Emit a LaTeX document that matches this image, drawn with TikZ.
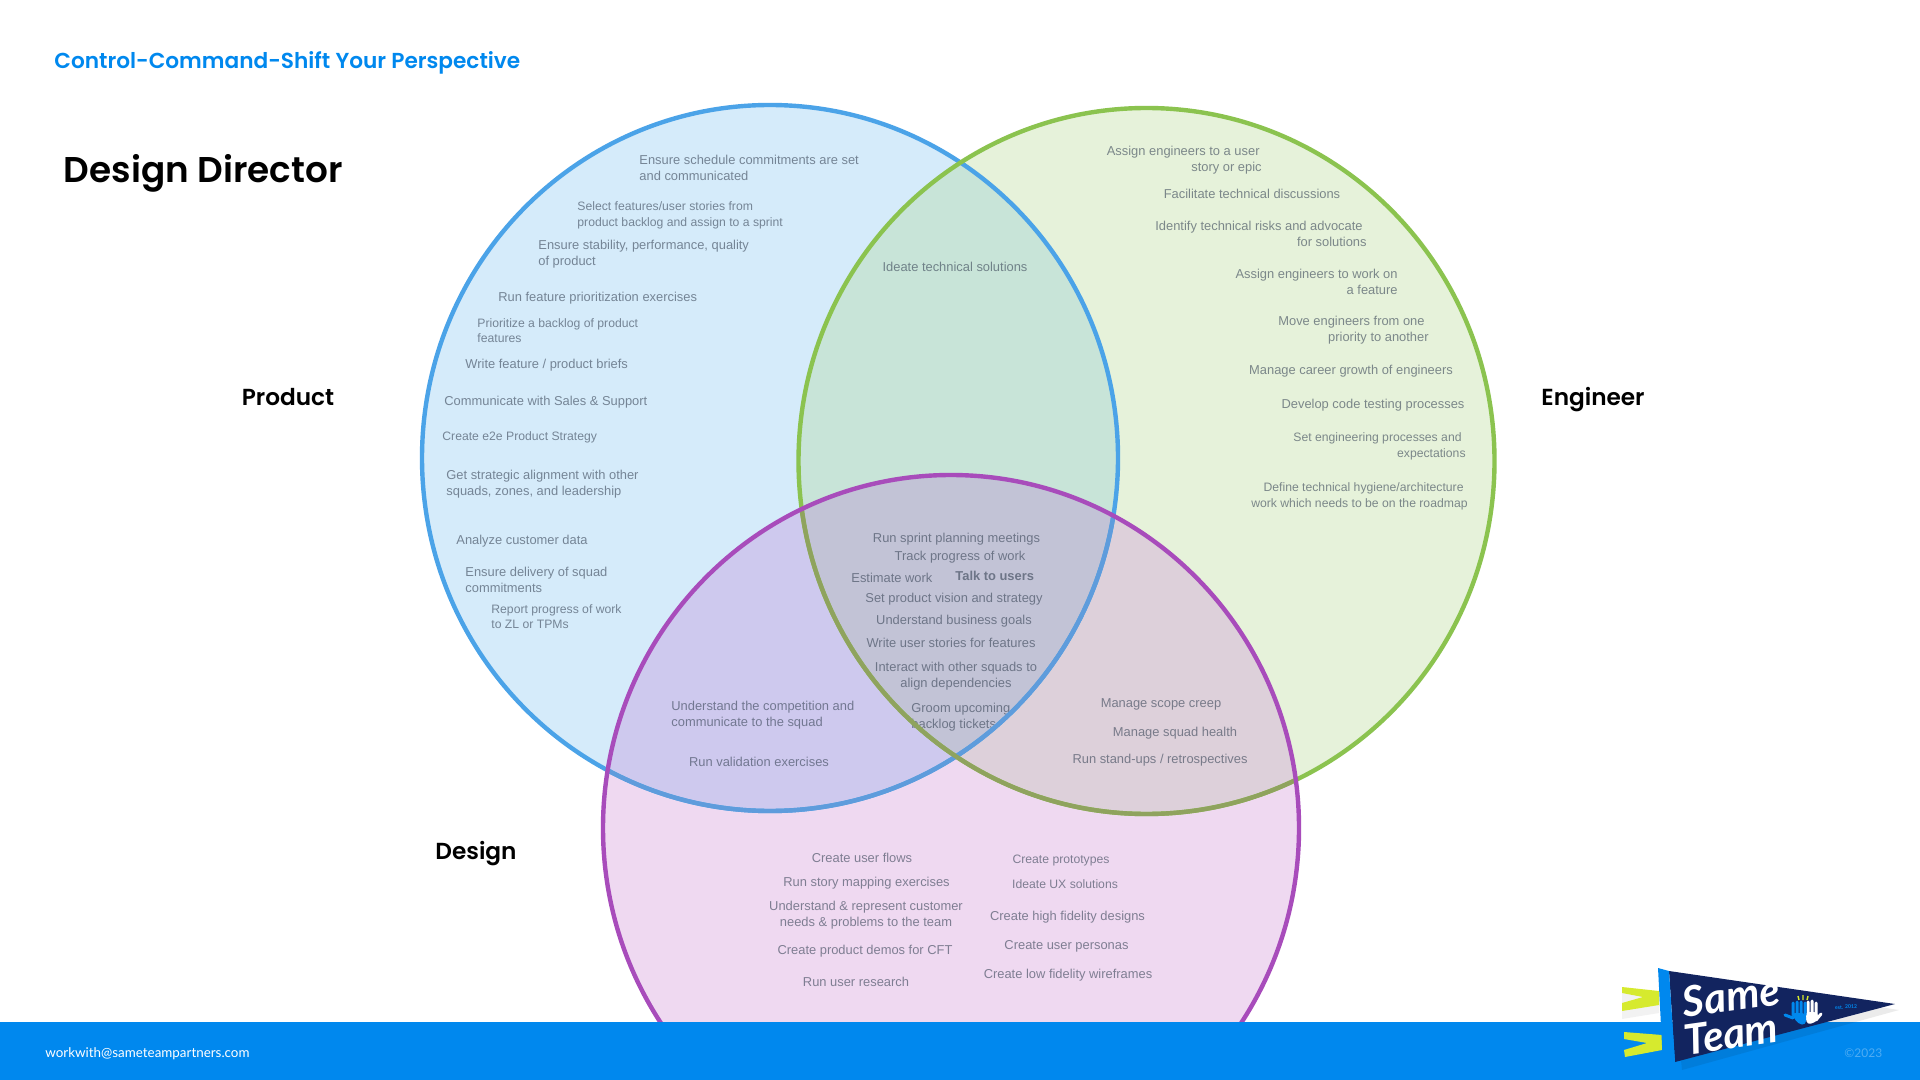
\documentclass[tikz,border=0pt]{standalone}
\usepackage{fontspec}
\setmainfont{Liberation Sans}
\newfontfamily\headfont{Poppins}[BoldFont={Poppins SemiBold}]
\newfontfamily\footfont{Lato}
\usepackage{tikz}
\definecolor{ink}{HTML}{3A4658}
\definecolor{barblue}{HTML}{0088EE}
\definecolor{navy}{HTML}{12245F}
\definecolor{lime}{HTML}{D6EA2E}
\definecolor{prodline}{HTML}{4BA3E8}
\definecolor{prodfill}{HTML}{D5EBFA}
\definecolor{engline}{HTML}{8BC34F}
\definecolor{engfill}{HTML}{E6F2DA}
\definecolor{desline}{HTML}{A84CBB}
\definecolor{desfill}{HTML}{EFD9F1}
\definecolor{prodeng}{HTML}{C8E4D8}
\definecolor{proddes}{HTML}{CEC9EE}
\definecolor{engdes}{HTML}{DDD0DA}
\definecolor{allthree}{HTML}{C2C3D6}
\definecolor{engdim}{HTML}{8FA35E}
\definecolor{proddim}{HTML}{5E9CDC}
\newcommand{\prodpath}{(770,458) ellipse [x radius=348,y radius=353]}
\newcommand{\engpath}{(1146.5,461) ellipse [x radius=348,y radius=353]}
\newcommand{\despath}{(951,828) ellipse [x radius=348,y radius=353]}
\begin{document}
\begin{tikzpicture}[
 x=.5pt,y=-.5pt,
 lab/.style={font=\fontsize{6.45}{8.2}\selectfont,text=ink,text opacity=.62,inner sep=0pt,align=left,anchor=west,yshift=-1pt,
   execute at begin node=\strut,execute at end node=\strut},
 labs/.style={lab,font=\fontsize{6.1}{7.7}\selectfont},
 mid/.style={anchor=center,align=center},
 rgt/.style={anchor=east,align=right},
 setname/.style={font=\headfont\bfseries\fontsize{11.6}{14}\selectfont,text=black,inner sep=0pt,
   execute at begin node=\strut},
 rim/.style={line width=2.2pt}
]
\useasboundingbox (0,0) rectangle (1920,1080);
% regions
\fill[prodfill] \prodpath;
\fill[engfill] \engpath;
\fill[desfill] \despath;
\begin{scope}
 \clip \prodpath;
 \fill[prodeng] \engpath;
 \fill[proddes] \despath;
\end{scope}
\begin{scope}
 \clip \engpath;
 \fill[engdes] \despath;
 \clip \prodpath;
 \fill[allthree] \despath;
\end{scope}
% headings
\node[font=\headfont\bfseries\fontsize{10.83}{14}\selectfont,text=barblue,anchor=west,inner sep=0pt] (title) at (54,62.5) {Control-Command-Shift Your Perspective};
\node[font=\headfont\bfseries\fontsize{17.9}{24}\selectfont,text=black,anchor=west,inner sep=0pt] (role) at (63.5,173.5) {Design Director};
\node[setname] (product) at (288,399.5) {Product};
\node[setname] (engineer) at (1593,399.5) {Engineer};
\node[setname] (design) at (476,853.5) {Design};
% product
\node[lab] (p1) at (639,168.5) {Ensure schedule commitments are set\\and communicated};
\node[labs] (p2) at (577,214.5) {Select features/user stories from\\product backlog and assign to a sprint};
\node[lab] (p3) at (538,253) {Ensure stability, performance, quality\\of product};
\node[lab] (p4) at (498,296) {Run feature prioritization exercises};
\node[labs] (p5) at (477,331) {Prioritize a backlog of product\\features};
\node[lab] (p6) at (465,363) {Write feature / product briefs};
\node[lab] (p7) at (444,400) {Communicate with Sales \& Support};
\node[labs] (p8) at (442,435) {Create e2e Product Strategy};
\node[lab] (p9) at (446,483) {Get strategic alignment with other\\squads, zones, and leadership};
\node[lab] (p10) at (456,539) {Analyze customer data};
\node[lab] (p11) at (465,580) {Ensure delivery of squad\\commitments};
\node[labs] (p12) at (491,617) {Report progress of work\\to ZL or TPMs};
% engineer
\node[lab,rgt] (e1) at (1262,159) {Assign engineers to a user\hspace*{1pt}\\story or epic};
\node[lab,mid] (e2) at (1252,193) {Facilitate technical discussions};
\node[lab,rgt] (e3) at (1367,234) {Identify technical risks and advocate\hspace*{2pt}\\for solutions};
\node[lab,rgt] (e4) at (1398,282) {Assign engineers to work on\\a feature};
\node[lab,rgt] (e5) at (1429,329) {Move engineers from one\hspace*{2pt}\\priority to another};
\node[lab,mid] (e6) at (1351,369) {Manage career growth of engineers};
\node[lab,mid] (e7) at (1373,403) {Develop code testing processes};
\node[labs,rgt] (e8) at (1466,445.5) {Set engineering processes and\hspace*{2pt}\\expectations};
\node[labs,rgt] (e9) at (1468,495.5) {Define technical hygiene/architecture\hspace*{2pt}\\work which needs to be on the roadmap};
% overlaps
\node[lab,mid] (pe1) at (955,266) {Ideate technical solutions};
\node[lab,mid] (c1) at (956.5,537) {Run sprint planning meetings};
\node[lab,mid] (c2) at (960,555) {Track progress of work};
\node[lab] (c3) at (851,577) {Estimate work};
\node[lab,font=\bfseries\fontsize{6.45}{8.2}\selectfont] (c4) at (955,575) {Talk to users};
\node[lab,mid] (c5) at (954,597) {Set product vision and strategy};
\node[lab,mid] (c6) at (954,619) {Understand business goals};
\node[lab,mid] (c7) at (951,642) {Write user stories for features};
\node[lab,mid] (c8) at (956,675) {Interact with other squads to\\align dependencies};
\node[lab] (c9) at (911,716) {Groom upcoming\\backlog tickets};
\node[lab] (pd1) at (671,714.5) {Understand the competition and\\communicate to the squad};
\node[lab,mid] (pd2) at (759,761) {Run validation exercises};
\node[lab,mid] (ed1) at (1161,702) {Manage scope creep};
\node[lab,mid] (ed2) at (1175,731) {Manage squad health};
\node[lab,mid] (ed3) at (1160,758) {Run stand-ups / retrospectives};
% design
\node[lab,mid] (d1) at (862,857) {Create user flows};
\node[lab,mid] (d2) at (866.5,881) {Run story mapping exercises};
\node[lab,mid] (d3) at (866,914.5) {Understand \& represent customer\\needs \& problems to the team};
\node[lab,mid] (d4) at (865,949) {Create product demos for CFT};
\node[lab,mid] (d5) at (856,981) {Run user research};
\node[labs,mid] (d6) at (1061,858) {Create prototypes};
\node[labs,mid] (d7) at (1065,883) {Ideate UX solutions};
\node[lab,mid] (d8) at (1067.5,915) {Create high fidelity designs};
\node[lab,mid] (d9) at (1066.5,944) {Create user personas};
\node[lab,mid] (d10) at (1068,973) {Create low fidelity wireframes};
% rims
\draw[rim,prodline] \prodpath;
\draw[rim,engline] \engpath;
\begin{scope}
 \clip \despath;
 \draw[rim,proddim] \prodpath;
 \draw[rim,engdim] \engpath;
\end{scope}
\draw[rim,desline] \despath;
% footer
\fill[barblue] (0,1022) rectangle (1920,1080);
\node[font=\footfont\fontsize{6.7}{8}\selectfont,text=white,anchor=west,inner sep=0pt] (mail) at (45,1054) {workwith@sameteampartners.com};
\node[font=\footfont\fontsize{6}{8}\selectfont,text=white,text opacity=.3,anchor=west,inner sep=0pt] (copy) at (1844,1053) {©2023};
% pennant
\fill[black,opacity=.08] (1672,975) -- (1899,1010) -- (1682,1070) -- cycle;
\fill[black,opacity=.05] (1622,993) -- (1659,997) -- (1659,1013) -- (1622,1019) -- cycle;
\fill[lime] (1622,987) -- (1659,991) -- (1659,1005) -- (1622,1011) -- (1622,1003) -- (1643,997) -- (1622,993) -- cycle;
\fill[lime] (1624,1032) -- (1662,1035) -- (1662,1050) -- (1625,1057) -- (1624,1050) -- (1647,1043) -- (1624,1039) -- cycle;
\fill[navy] (1669,971) -- (1895,1004) -- (1675,1062) -- cycle;
\fill[barblue] (1658,968) -- (1669,971) -- (1675,1062) -- (1663,1065) -- cycle;
\node[font=\footfont\bfseries\itshape\fontsize{21}{22}\selectfont,text=white,rotate=8,inner sep=0pt] (same) at (1731,996) {Same};
\node[font=\footfont\bfseries\itshape\fontsize{21}{22}\selectfont,text=white,rotate=8,inner sep=0pt] (team) at (1731,1034) {Team};
\draw[line width=1.5pt,line cap=round,white] (1808,1002) -- (1808,1015) (1812,1001) -- (1812,1015) (1816,1003) -- (1816,1015) (1821,1014) -- (1816,1020);
\fill[white,rounded corners=2pt] (1805,1012) -- (1818,1012) -- (1818,1021) -- (1807,1025) -- cycle;
\draw[line width=1.5pt,line cap=round,barblue] (1793,1003) -- (1793,1015) (1797,1002) -- (1797,1015) (1801,1002) -- (1801,1015) (1805,1003) -- (1805,1015) (1785,1015) -- (1793,1018);
\fill[barblue,rounded corners=2pt] (1791,1013) -- (1806,1013) -- (1806,1025) -- (1798,1024) -- cycle;
\draw[line width=.7pt,lime] (1798,996) -- (1799,1000) (1803,995) -- (1803,1000) (1808,996) -- (1807,1000);
\node[font=\footfont\bfseries\fontsize{2.6}{3}\selectfont,text=barblue,rotate=2,inner sep=0pt] (est) at (1846,1007) {est. 2012};
\end{tikzpicture}
\end{document}
